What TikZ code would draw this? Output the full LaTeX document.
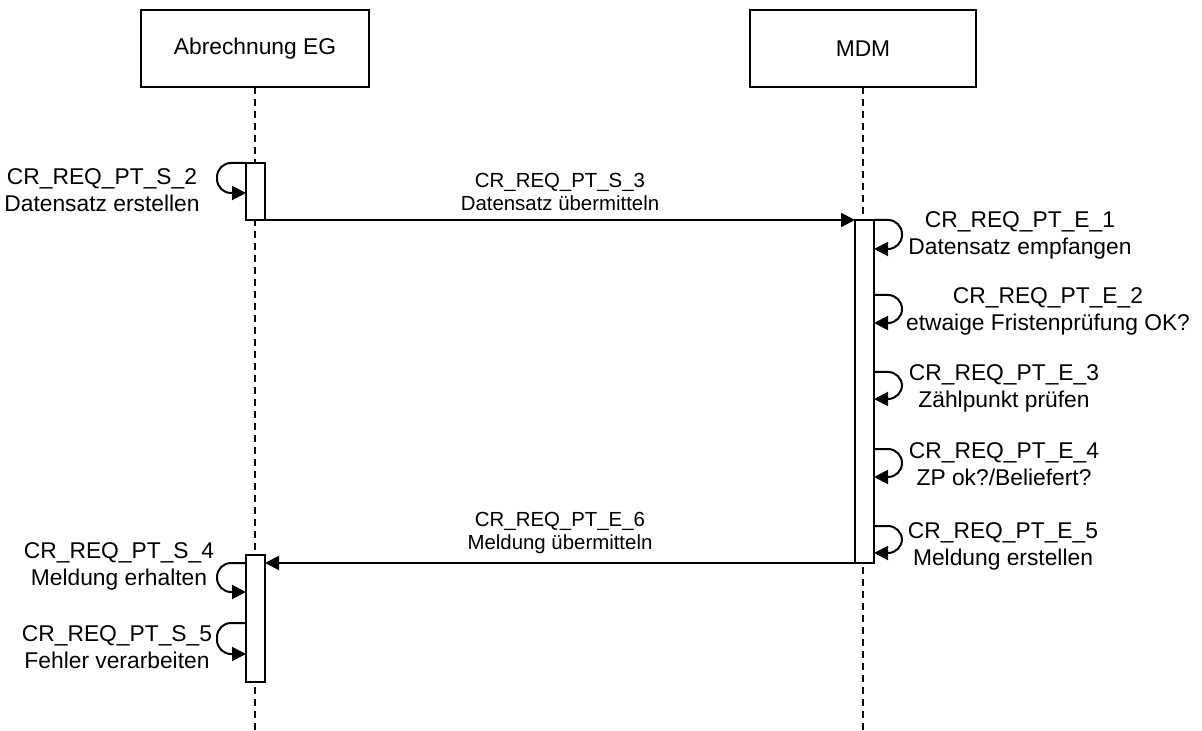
\documentclass[tikz,border=0pt]{standalone}
\usepackage{fontspec}
\setmainfont{Liberation Sans}
\usetikzlibrary{arrows.meta}
\begin{document}
\begin{tikzpicture}[x=0.5pt,y=-0.5pt,
  every node/.style={inner sep=0pt, outer sep=0pt},
  head/.style={draw, line width=1pt, minimum height=38.5pt, font=\fontsize{11.4}{13.5}\selectfont},
  lifeline/.style={line width=0.8pt, dash pattern=on 3.5pt off 2.5pt},
  actbar/.style={draw, fill=white, line width=1pt, minimum width=9.5pt},
  msg/.style={line width=1pt, -{Triangle[length=7pt,width=7pt]}},
  selfmsg/.style={msg, rounded corners=7pt},
  lbl/.style={align=center, font=\fontsize{11.4}{13.5}\selectfont},
  mlbl/.style={align=center, font=\fontsize{10.2}{11.8}\selectfont}]
\useasboundingbox (0,0) rectangle (1202,731);

% lifeline heads
\node[head, minimum width=114pt] (A) at (255,48.5) {Abrechnung EG};
\node[head, minimum width=113pt] (M) at (863,48.5) {MDM};

% lifelines
\draw[lifeline] (A.south) -- (A.south |- 0,731);
\draw[lifeline] (M.south) -- (M.south |- 0,731);

% activation bars
\node[actbar, minimum height=28.5pt] (aS2) at (255.5,191.5) {};
\node[actbar, minimum height=171.5pt] (mE) at (864.5,391.5) {};
\node[actbar, minimum height=63.5pt] (aS4) at (255.5,618.5) {};

% messages
\draw[msg] (aS2.south east) -- (mE.north west);
\draw[msg] (mE.south west) -- (aS4.east |- mE.south west);
\node[mlbl] (lS3) at (560,192) {CR\_REQ\_PT\_S\_3\\Datensatz übermitteln};
\node[mlbl] (lE6) at (560,533) {CR\_REQ\_PT\_E\_6\\Meldung übermitteln};

% self messages left
\draw[selfmsg] (aS2.north west) -- ++(-29,0) -- ++(0,30) -- (aS2.west |- 0,193);
\node[lbl] (lS2) at (102,190) {CR\_REQ\_PT\_S\_2\\Datensatz erstellen};
\draw[selfmsg] (aS4.west |- 0,563) -- ++(-29,0) -- ++(0,29) -- (aS4.west |- 0,592);
\node[lbl] (lS4) at (119,566) {CR\_REQ\_PT\_S\_4\\Meldung erhalten};
\draw[selfmsg] (aS4.west |- 0,623) -- ++(-29,0) -- ++(0,31) -- (aS4.west |- 0,654);
\node[lbl] (lS5) at (117,647) {CR\_REQ\_PT\_S\_5\\Fehler verarbeiten};

% self messages right
\draw[selfmsg] (mE.north east) -- ++(28,0) -- ++(0,29) -- (mE.east |- 0,249);
\node[lbl] (lE1) at (1020,235) {CR\_REQ\_PT\_E\_1\\Datensatz empfangen};
\draw[selfmsg] (mE.east |- 0,295) -- ++(28,0) -- ++(0,28) -- (mE.east |- 0,323);
\node[lbl] (lE2) at (1048,311) {CR\_REQ\_PT\_E\_2\\etwaige Fristenprüfung OK?};
\draw[selfmsg] (mE.east |- 0,372) -- ++(28,0) -- ++(0,27) -- (mE.east |- 0,399);
\node[lbl] (lE3) at (1004,388) {CR\_REQ\_PT\_E\_3\\Zählpunkt prüfen};
\draw[selfmsg] (mE.east |- 0,449) -- ++(28,0) -- ++(0,28) -- (mE.east |- 0,477);
\node[lbl] (lE4) at (1004,464) {CR\_REQ\_PT\_E\_4\\ZP ok?/Beliefert?};
\draw[selfmsg] (mE.east |- 0,526) -- ++(28,0) -- ++(0,27) -- (mE.east |- 0,553);
\node[lbl] (lE5) at (1003,546) {CR\_REQ\_PT\_E\_5\\Meldung erstellen};
\end{tikzpicture}
\end{document}
